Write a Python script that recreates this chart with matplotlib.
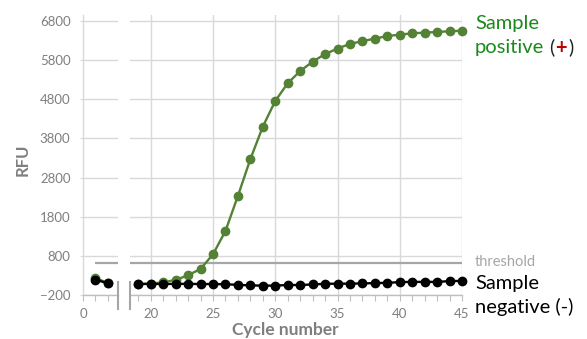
import matplotlib
matplotlib.use('Agg')
import matplotlib.pyplot as plt
from matplotlib.lines import Line2D
from matplotlib.ticker import MultipleLocator, FixedLocator

# ---------------- data ----------------
cycles_early = [1, 2]
pos_early = [240, 100]
neg_early = [190, 100]

cycles = list(range(19, 46))
pos_vals = [80, 90, 125, 185, 305, 465, 840, 1435, 2330, 3270, 4100, 4757, 5210,
            5520, 5760, 5955, 6095, 6215, 6285, 6350, 6417, 6450, 6486, 6502,
            6520, 6537, 6553]
neg_vals = [80, 85, 80, 85, 85, 80, 80, 75, 60, 45, 40, 40, 55, 55, 70, 85, 90,
            90, 95, 105, 110, 130, 135, 135, 135, 155, 160]
threshold = 620
yticks = list(range(-200, 6801, 1000))
xticks_left = [0]
xticks_right = [20, 25, 30, 35, 40, 45]

# ---------------- style ----------------
FONT = 'Lato'
plt.rcParams['font.family'] = [FONT, 'DejaVu Sans']
W, H, DPI = 587, 339, 100
GREEN = '#548235'
TXT_GREEN = '#1a8a1a'
GRID = '#d9d9d9'
AXIS = '#bfbfbf'
TICKTXT = '#7f7f7f'
THR = '#a6a6a6'

fig = plt.figure(figsize=(W / DPI, H / DPI), dpi=DPI)

def fx(px):
    return px / W

def fy(py):
    return 1 - py / H

y_top_px, y_bot_px = 15, 295
ymin = -200
ymax = -200 + (y_bot_px - y_top_px) * 7000 / 274.0
pxu = 12.45

axL = fig.add_axes([fx(83), fy(y_bot_px), 35 / W, (y_bot_px - y_top_px) / H])
axR = fig.add_axes([fx(130), fy(y_bot_px), 332 / W, (y_bot_px - y_top_px) / H])

axL.set_xlim(0, 35 / pxu)
axR.set_xlim(45 - 332 / pxu, 45)

for ax in (axL, axR):
    ax.set_ylim(ymin, ymax)
    ax.set_facecolor('none')
    for s in ('top', 'right'):
        ax.spines[s].set_visible(False)
    ax.spines['bottom'].set_color(AXIS)
    ax.spines['bottom'].set_linewidth(1.0)
    ax.yaxis.set_major_locator(FixedLocator(yticks))
    ax.grid(axis='y', color=GRID, lw=1.0, zorder=0)
    ax.xaxis.set_minor_locator(MultipleLocator(1))
    ax.tick_params(axis='x', which='both', direction='out', length=4, width=0.8,
                   color=AXIS, labelcolor=TICKTXT, labelsize=9.5, pad=5)
    ax.set_axisbelow(True)

axL.spines['left'].set_color(GRID)
axL.spines['left'].set_linewidth(1.0)
axL.xaxis.set_major_locator(FixedLocator(xticks_left))
axL.tick_params(axis='y', length=2, color=GRID, labelcolor=TICKTXT, labelsize=9.5, pad=7)

axR.spines['left'].set_visible(False)
axR.xaxis.set_major_locator(FixedLocator(xticks_right))
axR.tick_params(axis='y', left=False, labelleft=False)
axR.grid(axis='x', color=GRID, lw=1.0, zorder=0)

# threshold
axL.plot([1, 35 / pxu], [threshold, threshold], color=THR, lw=1.6, zorder=1,
         solid_capstyle='butt')
axR.axhline(threshold, color=THR, lw=1.6, zorder=1)

# series
for ax, xs, p, n in ((axL, cycles_early, pos_early, neg_early),
                     (axR, cycles, pos_vals, neg_vals)):
    ax.plot(xs, p, color=GREEN, lw=1.7, marker='o', ms=6, zorder=3, clip_on=False)
    ax.plot(xs, n, color='black', lw=1.7, marker='o', ms=6, zorder=4, clip_on=False)

# axis break marks
for xp in (117.5, 130):
    fig.add_artist(Line2D([fx(xp), fx(xp)], [fy(282), fy(309)], color=THR, lw=1.5))

# labels
fig.text(fx(23), fy(160), 'RFU', rotation=90, ha='center', va='center',
         fontsize=12, fontweight='bold', color=TICKTXT)
fig.text(fx(285), fy(330.5), 'Cycle number', ha='center', va='center',
         fontsize=12.5, fontweight='bold', color=TICKTXT)

# right-side annotations
fs = 14.5
fig.text(fx(475), fy(28.5), 'Sample', ha='left', va='baseline', fontsize=fs, color=TXT_GREEN)
t1 = fig.text(fx(475), fy(53.5), 'positive', ha='left', va='baseline', fontsize=fs, color=TXT_GREEN)
fig.canvas.draw()
r = fig.canvas.get_renderer()
x1 = t1.get_window_extent(r).x1 + 5
t2 = fig.text(x1 / W, fy(53.5), '(', ha='left', va='baseline', fontsize=fs, color='#222222')
fig.canvas.draw()
x2 = t2.get_window_extent(r).x1 + 1
t3 = fig.text(x2 / W, fy(53.5), '+', ha='left', va='baseline', fontsize=fs,
              fontweight='bold', color='#c00000')
fig.canvas.draw()
x3 = t3.get_window_extent(r).x1 + 1
fig.text(x3 / W, fy(53.5), ')', ha='left', va='baseline', fontsize=fs, color='#222222')

fig.text(fx(475), fy(265.5), 'threshold', ha='left', va='baseline', fontsize=10.5, color=THR)
fig.text(fx(475), fy(288.5), 'Sample', ha='left', va='baseline', fontsize=fs, color='black')
fig.text(fx(475), fy(313.5), 'negative (-)', ha='left', va='baseline', fontsize=fs, color='black')

fig.savefig('out.png', dpi=DPI)
